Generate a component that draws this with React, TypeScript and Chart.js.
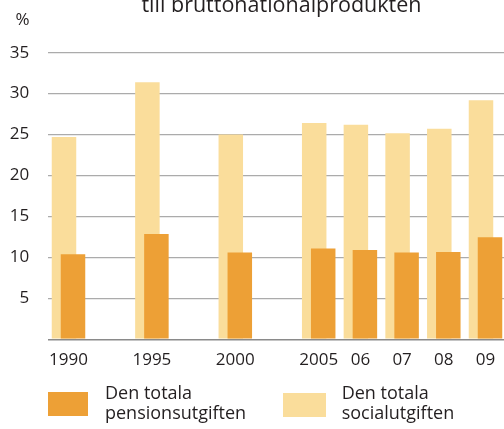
import React, { useEffect, useRef } from 'react';
import { Chart, registerables } from 'chart.js';

Chart.register(...registerables);

// Category slots (blank slots are the gaps in the original axis)
const categories = ['1990', '', '1995', '', '2000', '', '2005', '06', '07', '08', '09'];
// Den totala socialutgiften, % av BNP
const socialutgiften: (number | null)[] = [24.7, null, 31.4, null, 25.0, null, 26.4, 26.2, 25.15, 25.7, 29.2];
// Den totala pensionsutgiften, % av BNP
const pensionsutgiften: (number | null)[] = [10.4, null, 12.85, null, 10.6, null, 11.1, 10.9, 10.6, 10.65, 12.45];

const yMin = 0;
const yMax = 35;
const yStep = 5;

const titleText = 'till bruttonationalprodukten';
const unitText = '%';
const legendPension = ['Den totala', 'pensionsutgiften'];
const legendSocial = ['Den totala', 'socialutgiften'];

const ORANGE = '#EDA036';
const LIGHT = '#FADD9B';
const TEXT = '#231f20';
const FONT = '"Open Sans", "Noto Sans", sans-serif';

const orangeOnTop = {
  id: 'orangeOnTop',
  beforeDatasetDraw(_chart: any, args: any) {
    if (args.index === 1) return false;
  },
  afterDatasetsDraw(chart: any) {
    const meta = chart.getDatasetMeta(1);
    if (!meta.hidden) meta.controller.draw();
  },
};

export default function App() {
  const canvasRef = useRef<HTMLCanvasElement | null>(null);

  useEffect(() => {
    let chart: Chart | null = null;
    let cancelled = false;
    const build = () => {
      if (cancelled || !canvasRef.current) return;
      chart = new Chart(canvasRef.current, {
        type: 'bar',
        data: {
          labels: categories,
          datasets: [
            {
              label: 'Den totala socialutgiften',
              data: socialutgiften,
              backgroundColor: LIGHT,
              borderWidth: 0,
              barPercentage: 2.72,
              categoryPercentage: 0.432,
            },
            {
              label: 'Den totala pensionsutgiften',
              data: pensionsutgiften,
              backgroundColor: ORANGE,
              borderWidth: 0,
              barPercentage: 2.72,
              categoryPercentage: 0.432,
            },
          ],
        },
        plugins: [orangeOnTop],
        options: {
          responsive: false,
          animation: false,
          devicePixelRatio: 1,
          layout: { padding: { left: 0, right: 5.65, top: 52.7, bottom: 59.7 } },
          plugins: {
            legend: { display: false },
            tooltip: { enabled: false },
            title: { display: false },
          },
          scales: {
            x: {
              type: 'category',
              offset: true,
              grid: { display: false, drawTicks: false },
              border: { display: false },
              ticks: {
                color: TEXT,
                font: { family: FONT, size: 17 },
                padding: 11,
                maxRotation: 0,
                autoSkip: false,
              },
              afterFit: (scale: any) => {
                scale.height = 30;
              },
            },
            y: {
              min: yMin,
              max: yMax,
              grid: {
                drawTicks: false,
                color: (ctx: any) => (ctx.tick && ctx.tick.value === 0 ? '#8a8a8a' : '#ababab'),
                lineWidth: (ctx: any) => (ctx.tick && ctx.tick.value === 0 ? 1.6 : 1.2),
              },
              border: { display: false },
              ticks: {
                stepSize: yStep,
                color: TEXT,
                font: { family: FONT, size: 17 },
                padding: 18.5,
                callback: (v: any) => (v === 0 ? '' : String(v)),
              },
              afterFit: (scale: any) => {
                scale.width = 47.65;
              },
            },
          },
        },
      });
    };
    const fontsApi = (document as any).fonts;
    if (fontsApi && fontsApi.load) {
      fontsApi.load('17px "Open Sans"').then(build, build);
    } else {
      build();
    }
    return () => {
      cancelled = true;
      if (chart) chart.destroy();
    };
  }, []);

  const textStyle: React.CSSProperties = {
    position: 'absolute',
    fontFamily: FONT,
    color: TEXT,
    whiteSpace: 'nowrap',
  };

  return (
    <div
      style={{
        position: 'fixed',
        left: 0,
        top: 0,
        width: 504,
        height: 429,
        overflow: 'hidden',
        background: '#ffffff',
      }}
    >
      <canvas ref={canvasRef} width={512} height={429} style={{ position: 'absolute', left: 0, top: 0 }} />
      <div
        style={{
          ...textStyle,
          left: 0,
          width: 563,
          top: -7.4,
          textAlign: 'center',
          fontSize: 21.5,
          lineHeight: '21.5px',
        }}
      >
        {titleText}
      </div>
      <div style={{ ...textStyle, left: 15.5, top: 10.3, fontSize: 17, lineHeight: '17px' }}>{unitText}</div>

      <div style={{ position: 'absolute', left: 47.7, top: 392, width: 40.6, height: 23.7, background: ORANGE }} />
      <div style={{ ...textStyle, left: 105, top: 383.4, fontSize: 18, lineHeight: '19.3px' }}>
        {legendPension[0]}
        <br />
        {legendPension[1]}
      </div>

      <div style={{ position: 'absolute', left: 283.3, top: 393, width: 42.7, height: 24, background: LIGHT }} />
      <div style={{ ...textStyle, left: 341.7, top: 383.4, fontSize: 18, lineHeight: '19.3px' }}>
        {legendSocial[0]}
        <br />
        {legendSocial[1]}
      </div>
    </div>
  );
}
